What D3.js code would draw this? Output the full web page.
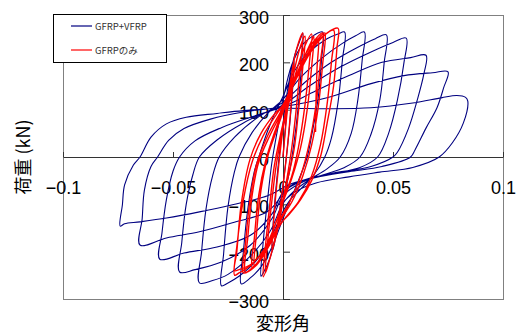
<!DOCTYPE html>
<html>
<head>
<meta charset="utf-8">
<script src="https://cdn.jsdelivr.net/npm/d3@7"></script>
<style>
  body { margin: 0; background: #fff; }
  svg { display: block; }
</style>
</head>
<body>
<svg width="519" height="335"></svg>
<script>
// tick values
const xTicks = [-0.1, -0.05, 0, 0.05, 0.1];
const yTicks = [-300, -200, -100, 0, 100, 200, 300];

const seriesNames = ["GFRP+VFRP", "GFRPのみ"];

// GFRP+VFRP : [drift angle, load kN]
const blue = [
  [0, 0], [0.002, 110], [0.004, 190], [0.005, 205], [0.004, 120], [0.002, 20], [0, -60],
  [-0.002, -130], [-0.004, -185], [-0.005, -200], [-0.004, -110], [-0.002, -10], [0, 70], [0.002, 140],
  // +-0.009
  [0.005, 210], [0.008, 250], [0.009, 262], [0.0085, 200], [0.007, 110], [0.005, 30], [0.003, -30], [0, -90],
  [-0.003, -160], [-0.006, -215], [-0.009, -245], [-0.010, -252],
  [-0.009, -180], [-0.007, -90], [-0.005, -10], [-0.002, 70], [0, 120],
  // +-0.018
  [0.004, 195], [0.009, 238], [0.014, 257], [0.018, 264],
  [0.0175, 205], [0.016, 125], [0.013, 45], [0.011, 0], [0.007, -50], [0.003, -95], [0, -130],
  [-0.005, -190], [-0.010, -232], [-0.015, -256], [-0.019, -268],
  [-0.018, -200], [-0.016, -110], [-0.013, -30], [-0.011, 0], [-0.007, 55], [-0.003, 100], [0, 128],
  // +-0.028
  [0.005, 180], [0.012, 222], [0.020, 250], [0.025, 260], [0.028, 264],
  [0.027, 205], [0.025, 115], [0.022, 40], [0.019, 0], [0.014, -38], [0.008, -68], [0.003, -92], [0, -115],
  [-0.005, -165], [-0.012, -218], [-0.020, -252], [-0.025, -266], [-0.028, -272],
  [-0.027, -205], [-0.025, -105], [-0.022, -30], [-0.020, 0], [-0.014, 52], [-0.007, 92], [0, 122],
  // +-0.037
  [0.008, 168], [0.018, 210], [0.027, 240], [0.033, 256], [0.037, 264],
  [0.036, 205], [0.034, 120], [0.031, 50], [0.026, 0], [0.020, -25], [0.012, -48], [0.005, -72], [0, -98],
  [-0.006, -158], [-0.015, -210], [-0.025, -248], [-0.032, -261], [-0.038, -266],
  [-0.037, -200], [-0.035, -110], [-0.032, -40], [-0.029, 0], [-0.022, 42], [-0.012, 82], [0, 116],
  // +-0.047
  [0.010, 158], [0.022, 200], [0.034, 232], [0.042, 250], [0.047, 258],
  [0.046, 200], [0.044, 120], [0.040, 48], [0.035, 0], [0.028, -22], [0.018, -38], [0.008, -55], [0, -82],
  [-0.005, -130], [-0.015, -187], [-0.028, -222], [-0.040, -238], [-0.047, -243],
  [-0.046, -180], [-0.044, -100], [-0.041, -38], [-0.038, 0], [-0.030, 36], [-0.018, 72], [-0.006, 98], [0, 110],
  // +-0.056
  [0.012, 150], [0.026, 190], [0.040, 222], [0.050, 242], [0.056, 251],
  [0.055, 200], [0.052, 120], [0.048, 50], [0.043, 0], [0.035, -22], [0.022, -35], [0.010, -48], [0, -75],
  [-0.005, -120], [-0.015, -166], [-0.030, -190], [-0.045, -203], [-0.056, -216],
  [-0.055, -160], [-0.053, -90], [-0.050, -30], [-0.047, 0], [-0.040, 34], [-0.028, 62], [-0.012, 88], [0, 106],
  // +-0.065
  [0.015, 140], [0.030, 172], [0.045, 200], [0.058, 210], [0.065, 215],
  [0.064, 175], [0.061, 120], [0.057, 60], [0.052, 10], [0.050, 0], [0.040, -20], [0.025, -33], [0.012, -45],
  [0.003, -62], [0, -78], [-0.007, -115], [-0.023, -139], [-0.038, -158], [-0.053, -171], [-0.065, -186],
  [-0.064, -130], [-0.063, -70], [-0.060, -20], [-0.057, 0], [-0.052, 35], [-0.045, 60], [-0.033, 80], [-0.018, 95], [0, 106],
  // +-0.075
  [0.020, 125], [0.040, 155], [0.055, 172], [0.068, 178], [0.075, 180],
  [0.073, 146], [0.070, 104], [0.065, 61], [0.060, 15], [0.058, 0], [0.045, -20], [0.030, -31], [0.015, -43],
  [0.004, -56], [0, -65], [-0.007, -82], [-0.023, -101], [-0.038, -116], [-0.053, -129], [-0.065, -137],
  [-0.072, -141], [-0.074, -146],
  [-0.073, -101], [-0.072, -59], [-0.068, -17], [-0.065, 0], [-0.060, 42], [-0.053, 70], [-0.044, 84],
  [-0.030, 92], [-0.018, 98], [0, 103],
  // +0.084 and last unloading
  [0.020, 102], [0.040, 104], [0.059, 114], [0.072, 125], [0.079, 130], [0.083, 126], [0.084, 118],
  [0.082, 72], [0.077, 30], [0.071, 0], [0.059, -22], [0.044, -32], [0.030, -42], [0.015, -55],
  [0.005, -75], [0, -95], [-0.004, -105]
];

// GFRPのみ
const red = [
  [0, 0], [0.002, 100], [0.004, 175], [0.005, 200], [0.004, 130], [0.002, 20], [0, -60],
  [-0.002, -130], [-0.004, -180], [-0.005, -200], [-0.004, -120], [-0.002, -20], [0, 60], [0.003, 150],
  // +-0.009
  [0.006, 225], [0.009, 262], [0.008, 200], [0.006, 100], [0.004, 20], [0.002, -40], [0, -90],
  [-0.003, -160], [-0.006, -215], [-0.009, -253],
  [-0.008, -190], [-0.006, -100], [-0.004, -20], [-0.001, 50], [0.002, 110], [0.005, 180], [0.008, 235], [0.010, 255],
  [0.009, 190], [0.007, 95], [0.005, 15], [0.002, -50], [0, -95], [-0.003, -165], [-0.006, -215], [-0.008, -245],
  [-0.007, -180], [-0.005, -90], [-0.003, -15], [0, 60], [0.003, 120],
  // +-0.013
  [0.006, 180], [0.010, 235], [0.013, 260],
  [0.012, 200], [0.010, 110], [0.007, 20], [0.004, -40], [0, -90], [-0.004, -150], [-0.009, -205], [-0.014, -234],
  [-0.013, -170], [-0.011, -80], [-0.008, -10], [-0.004, 50], [0, 100], [0.005, 160], [0.010, 215], [0.013, 245], [0.014, 255],
  [0.013, 190], [0.011, 100], [0.008, 20], [0.004, -45], [0, -95], [-0.005, -160], [-0.010, -210], [-0.013, -232],
  [-0.012, -160], [-0.010, -70], [-0.007, 0], [-0.003, 55], [0, 95],
  // +-0.018
  [0.005, 160], [0.010, 215], [0.015, 250], [0.018, 262],
  [0.017, 200], [0.015, 110], [0.012, 30], [0.008, -40], [0.003, -95], [0, -120], [-0.006, -180], [-0.012, -225], [-0.018, -245],
  [-0.017, -180], [-0.015, -90], [-0.012, -15], [-0.007, 45], [0, 105], [0.006, 165], [0.012, 225], [0.017, 255], [0.019, 262],
  [0.018, 195], [0.016, 105], [0.013, 25], [0.009, -40], [0.004, -95], [0, -125], [-0.006, -185], [-0.012, -228], [-0.017, -243],
  [-0.016, -170], [-0.014, -80], [-0.011, -10], [-0.006, 45], [0, 100],
  // +-0.023
  [0.006, 165], [0.013, 225], [0.019, 258], [0.023, 268],
  [0.022, 200], [0.020, 110], [0.017, 25], [0.013, -40], [0.007, -95], [0, -135], [-0.007, -185], [-0.014, -225],
  [-0.020, -238], [-0.022, -240],
  [-0.021, -200], [-0.019, -100], [-0.015, -5], [-0.010, 50], [-0.004, 90], [0, 110], [0.006, 170], [0.013, 230],
  [0.020, 262], [0.025, 272],
  [0.0245, 230], [0.023, 150], [0.020, 70], [0.017, 0], [0.013, -50], [0.008, -90], [0.003, -120], [0, -135],
  [-0.005, -170], [-0.010, -205], [-0.015, -230], [-0.020, -245], [-0.022, -250],
  [-0.021, -190], [-0.018, -90], [-0.014, -10], [-0.009, 45], [-0.003, 90], [0, 110], [0.005, 160], [0.010, 205],
  [0.014, 238], [0.016, 250],
  [0.0155, 190], [0.015, 120], [0.0148, 53]
];

const svg = d3.select("svg");

const x = d3.scaleLinear().domain([-0.1, 0.1]).range([63, 503]);
const y = d3.scaleLinear().domain([-300, 300]).range([299, 15]);

const tickFont = "'Liberation Sans', Arial, sans-serif";
const jpFont = "'Noto Sans CJK JP', 'Liberation Sans', sans-serif";

// plot area frame
svg.append("rect")
    .attr("x", 63.5).attr("y", 15.5)
    .attr("width", 440).attr("height", 284)
    .attr("fill", "#fff")
    .attr("stroke", "#808080");

svg.append("clipPath").attr("id", "plot")
  .append("rect").attr("x", 63).attr("y", 15).attr("width", 441).attr("height", 285);

// axes through origin
const xAxis = svg.append("g")
    .attr("transform", `translate(0,${y(0)})`)
    .call(d3.axisBottom(x).tickValues(xTicks).tickFormat(d3.format(""))
      .tickSizeInner(-5).tickSizeOuter(0).tickPadding(24));

const yAxis = svg.append("g")
    .attr("transform", `translate(${x(0)},0)`)
    .call(d3.axisLeft(y).tickValues(yTicks).tickFormat(d3.format(""))
      .tickSizeInner(-7).tickSizeOuter(0).tickPadding(14));

yAxis.selectAll("text").attr("dy", "0.48em");

[xAxis, yAxis].forEach(g => {
  g.attr("font-family", tickFont).attr("font-size", 18);
  g.selectAll("path, line").attr("stroke", "#333");
  g.selectAll("text").attr("fill", "#000");
});

// series
const line = d3.line()
    .x(d => x(d[0]))
    .y(d => y(d[1]))
    .curve(d3.curveCatmullRom.alpha(0.5));

const plot = svg.append("g").attr("clip-path", "url(#plot)");

plot.append("path")
    .datum(blue)
    .attr("fill", "none")
    .attr("stroke", "#000080")
    .attr("stroke-width", 1.1)
    .attr("d", line);

plot.append("path")
    .datum(red)
    .attr("fill", "none")
    .attr("stroke", "#ff0000")
    .attr("stroke-width", 1.4)
    .attr("d", line);

// axis titles
svg.append("text")
    .attr("transform", "translate(22,157) rotate(-90)")
    .attr("text-anchor", "middle")
    .attr("dominant-baseline", "central")
    .attr("font-family", jpFont)
    .attr("font-size", 18)
    .text("荷重 (kN)");

svg.append("text")
    .attr("x", x(0))
    .attr("y", 322)
    .attr("text-anchor", "middle")
    .attr("dominant-baseline", "central")
    .attr("font-family", jpFont)
    .attr("font-size", 18)
    .text("変形角");

// legend
const legend = svg.append("g");
legend.append("rect")
    .attr("x", 53.5).attr("y", 14.5)
    .attr("width", 113).attr("height", 48)
    .attr("fill", "#fff")
    .attr("stroke", "#000");

const legendColors = ["#000080", "#ff0000"];
seriesNames.forEach((name, i) => {
  const ly = 26 + i * 24;
  legend.append("line")
      .attr("x1", 71).attr("x2", 92)
      .attr("y1", ly).attr("y2", ly)
      .attr("stroke", legendColors[i])
      .attr("stroke-width", 1.2);
  legend.append("text")
      .attr("x", 95).attr("y", ly)
      .attr("dominant-baseline", "central")
      .attr("font-family", jpFont)
      .attr("font-size", 9.5)
      .attr("fill", "#333")
      .text(name);
});
</script>
</body>
</html>
